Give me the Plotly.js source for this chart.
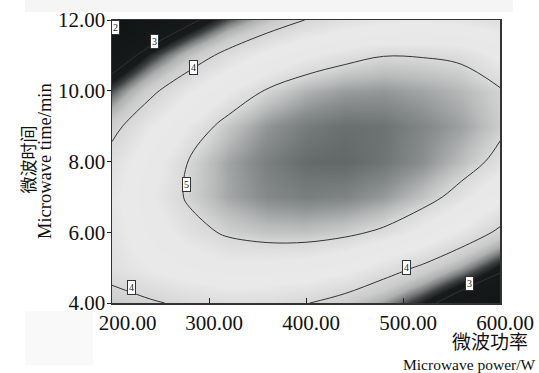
<!DOCTYPE html>
<html><head><meta charset="utf-8">
<script src="https://cdn.plot.ly/plotly-3.0.1.min.js"></script>
<style>body{margin:0;background:#fff}#c{width:539px;height:373px}</style>
</head><body><div id="c"></div>
<script>
// Microwave power (W) grid
const powerW = [200, 240, 280, 320, 360, 400, 440, 480, 520, 560, 600];
// Microwave time (min) grid
const timeMin = [4, 5, 6, 7, 8, 9, 10, 11, 12];
// Response (rows follow timeMin, columns follow powerW)
const response = [
  [3.80, 3.95, 4.09, 4.15, 4.13, 4.02, 3.82, 3.54, 3.16, 2.70, 2.45],
  [4.20, 4.42, 4.57, 4.68, 4.66, 4.62, 4.50, 4.22, 3.93, 3.55, 3.10],
  [4.26, 4.62, 4.88, 5.05, 5.14, 5.15, 5.08, 4.94, 4.69, 4.34, 3.91],
  [4.31, 4.73, 5.05, 5.29, 5.44, 5.50, 5.47, 5.35, 5.15, 4.86, 4.48],
  [4.18, 4.64, 5.02, 5.30, 5.50, 5.61, 5.63, 5.56, 5.41, 5.18, 4.89],
  [3.86, 4.37, 4.79, 5.12, 5.37, 5.52, 5.59, 5.57, 5.46, 5.32, 5.08],
  [3.34, 3.90, 4.36, 4.74, 5.03, 5.23, 5.34, 5.36, 5.30, 5.21, 5.03],
  [2.62, 3.22, 3.73, 4.15, 4.48, 4.72, 4.88, 4.99, 4.98, 4.93, 4.70],
  [1.95, 2.40, 2.88, 3.35, 3.72, 4.01, 4.21, 4.32, 4.35, 4.30, 4.18]
];
const xTicks = [200, 300, 400, 500, 600];
const xTickText = ['200.00', '300.00', '400.00', '500.00', '600.00'];
const yTicks = [4, 6, 8, 10, 12];
// contour label positions
const labelX = [204, 244, 284.5, 277, 504, 569, 219.6];
const labelY = [11.8, 11.38, 10.67, 7.35, 4.99, 4.54, 4.43];
const labelText = ['2', '3', '4', '5', '4', '3', '4'];

const zmin = 2, zmax = 5.65;
const stops = [
  [2.0, '#101414'], [3.15, '#161a1a'], [3.3, '#3c4040'], [3.45, '#7c7f7f'],
  [3.6, '#aeafaf'], [3.8, '#cbcbcb'], [4.0, '#d6d6d6'], [4.4, '#e9e9e9'],
  [4.75, '#e8e8e8'], [5.0, '#d8d8d8'], [5.2, '#b8baba'], [5.4, '#8c9090'],
  [5.65, '#5e6464']
];
const colorscale = stops.map(s => [(s[0] - zmin) / (zmax - zmin), s[1]]);

const serif = '"Liberation Serif", "Times New Roman", serif';
const cjk = '"Noto Sans CJK SC", sans-serif';

// first x label is pushed right in the reference, clear of the 4.00 label
const pad = '\u00a0\u00a0\u00a0\u00a0';
const xTickShown = xTickText.map((t, i) => i === 0 ? pad + t : t);

const traces = [
  {
    type: 'heatmap', x: powerW, y: timeMin, z: response,
    zsmooth: 'best', colorscale: colorscale, zmin: zmin, zmax: zmax,
    showscale: false, hoverinfo: 'skip'
  },
  {
    type: 'contour', x: powerW, y: timeMin, z: response,
    contours: {start: 2, end: 5, size: 1, coloring: 'none', showlabels: false},
    line: {color: '#333333', width: 1, smoothing: 1},
    showscale: false, hoverinfo: 'skip'
  }
];

const annotations = labelText.map((t, i) => ({
  x: labelX[i], y: labelY[i], xref: 'x', yref: 'y', text: t, showarrow: false,
  font: {family: serif, size: 10, color: '#222'},
  bgcolor: '#ffffff', bordercolor: '#333', borderwidth: 1, borderpad: 1
}));
annotations.push(
  {xref: 'paper', yref: 'paper', x: 1.0773, y: -0.1335, xanchor: 'right', yanchor: 'middle',
   text: '微波功率', showarrow: false, font: {family: cjk, size: 19, color: '#111'}},
  {xref: 'paper', yref: 'paper', x: 1.0954, y: -0.2163, xanchor: 'right', yanchor: 'middle',
   text: 'Microwave power/W', showarrow: false, font: {family: serif, size: 15.5, color: '#111'}},
  {xref: 'paper', yref: 'paper', x: -0.2190, y: 0.507, xanchor: 'center', yanchor: 'middle',
   text: '微波时间', textangle: -90, showarrow: false, font: {family: cjk, size: 17, color: '#111'}},
  {xref: 'paper', yref: 'paper', x: -0.1740, y: 0.5035, xanchor: 'center', yanchor: 'middle',
   text: 'Microwave time/min', textangle: -90, showarrow: false, font: {family: serif, size: 18.5, color: '#111'}}
);

const layout = {
  width: 539, height: 373,
  margin: {l: 112, r: 39, t: 20, b: 70, pad: 0},
  paper_bgcolor: '#ffffff', plot_bgcolor: '#ffffff',
  showlegend: false,
  xaxis: {
    range: [200, 600], tickvals: xTicks, ticktext: xTickShown,
    ticks: 'inside', ticklen: 5, tickcolor: '#222', tickwidth: 1,
    ticklabelshift: 5,
    showline: true, linecolor: '#333', linewidth: 1.5, mirror: true,
    showgrid: false, zeroline: false,
    tickfont: {family: serif, size: 21, color: '#111'}
  },
  yaxis: {
    range: [4, 12], tickvals: yTicks, tickformat: '.2f',
    ticks: 'outside', ticklen: 4, tickcolor: '#222', tickwidth: 1,
    ticklabelstandoff: -3,
    showline: true, linecolor: '#333', linewidth: 1.5, mirror: true,
    showgrid: false, zeroline: false,
    tickfont: {family: serif, size: 21, color: '#111'}
  },
  shapes: [
    {type: 'rect', xref: 'paper', yref: 'paper', x0: -0.2242, x1: 1.0335, y0: 1.0284, y1: 1.0745,
     fillcolor: '#f5f5f5', line: {width: 0}, layer: 'below'},
    {type: 'rect', xref: 'paper', yref: 'paper', x0: -0.2242, x1: -0.049, y0: -0.2199, y1: -0.0284,
     fillcolor: '#f9f9f9', line: {width: 0}, layer: 'below'}
  ],
  annotations: annotations
};

Plotly.newPlot('c', traces, layout, {staticPlot: true, displayModeBar: false});
</script>
</body></html>
